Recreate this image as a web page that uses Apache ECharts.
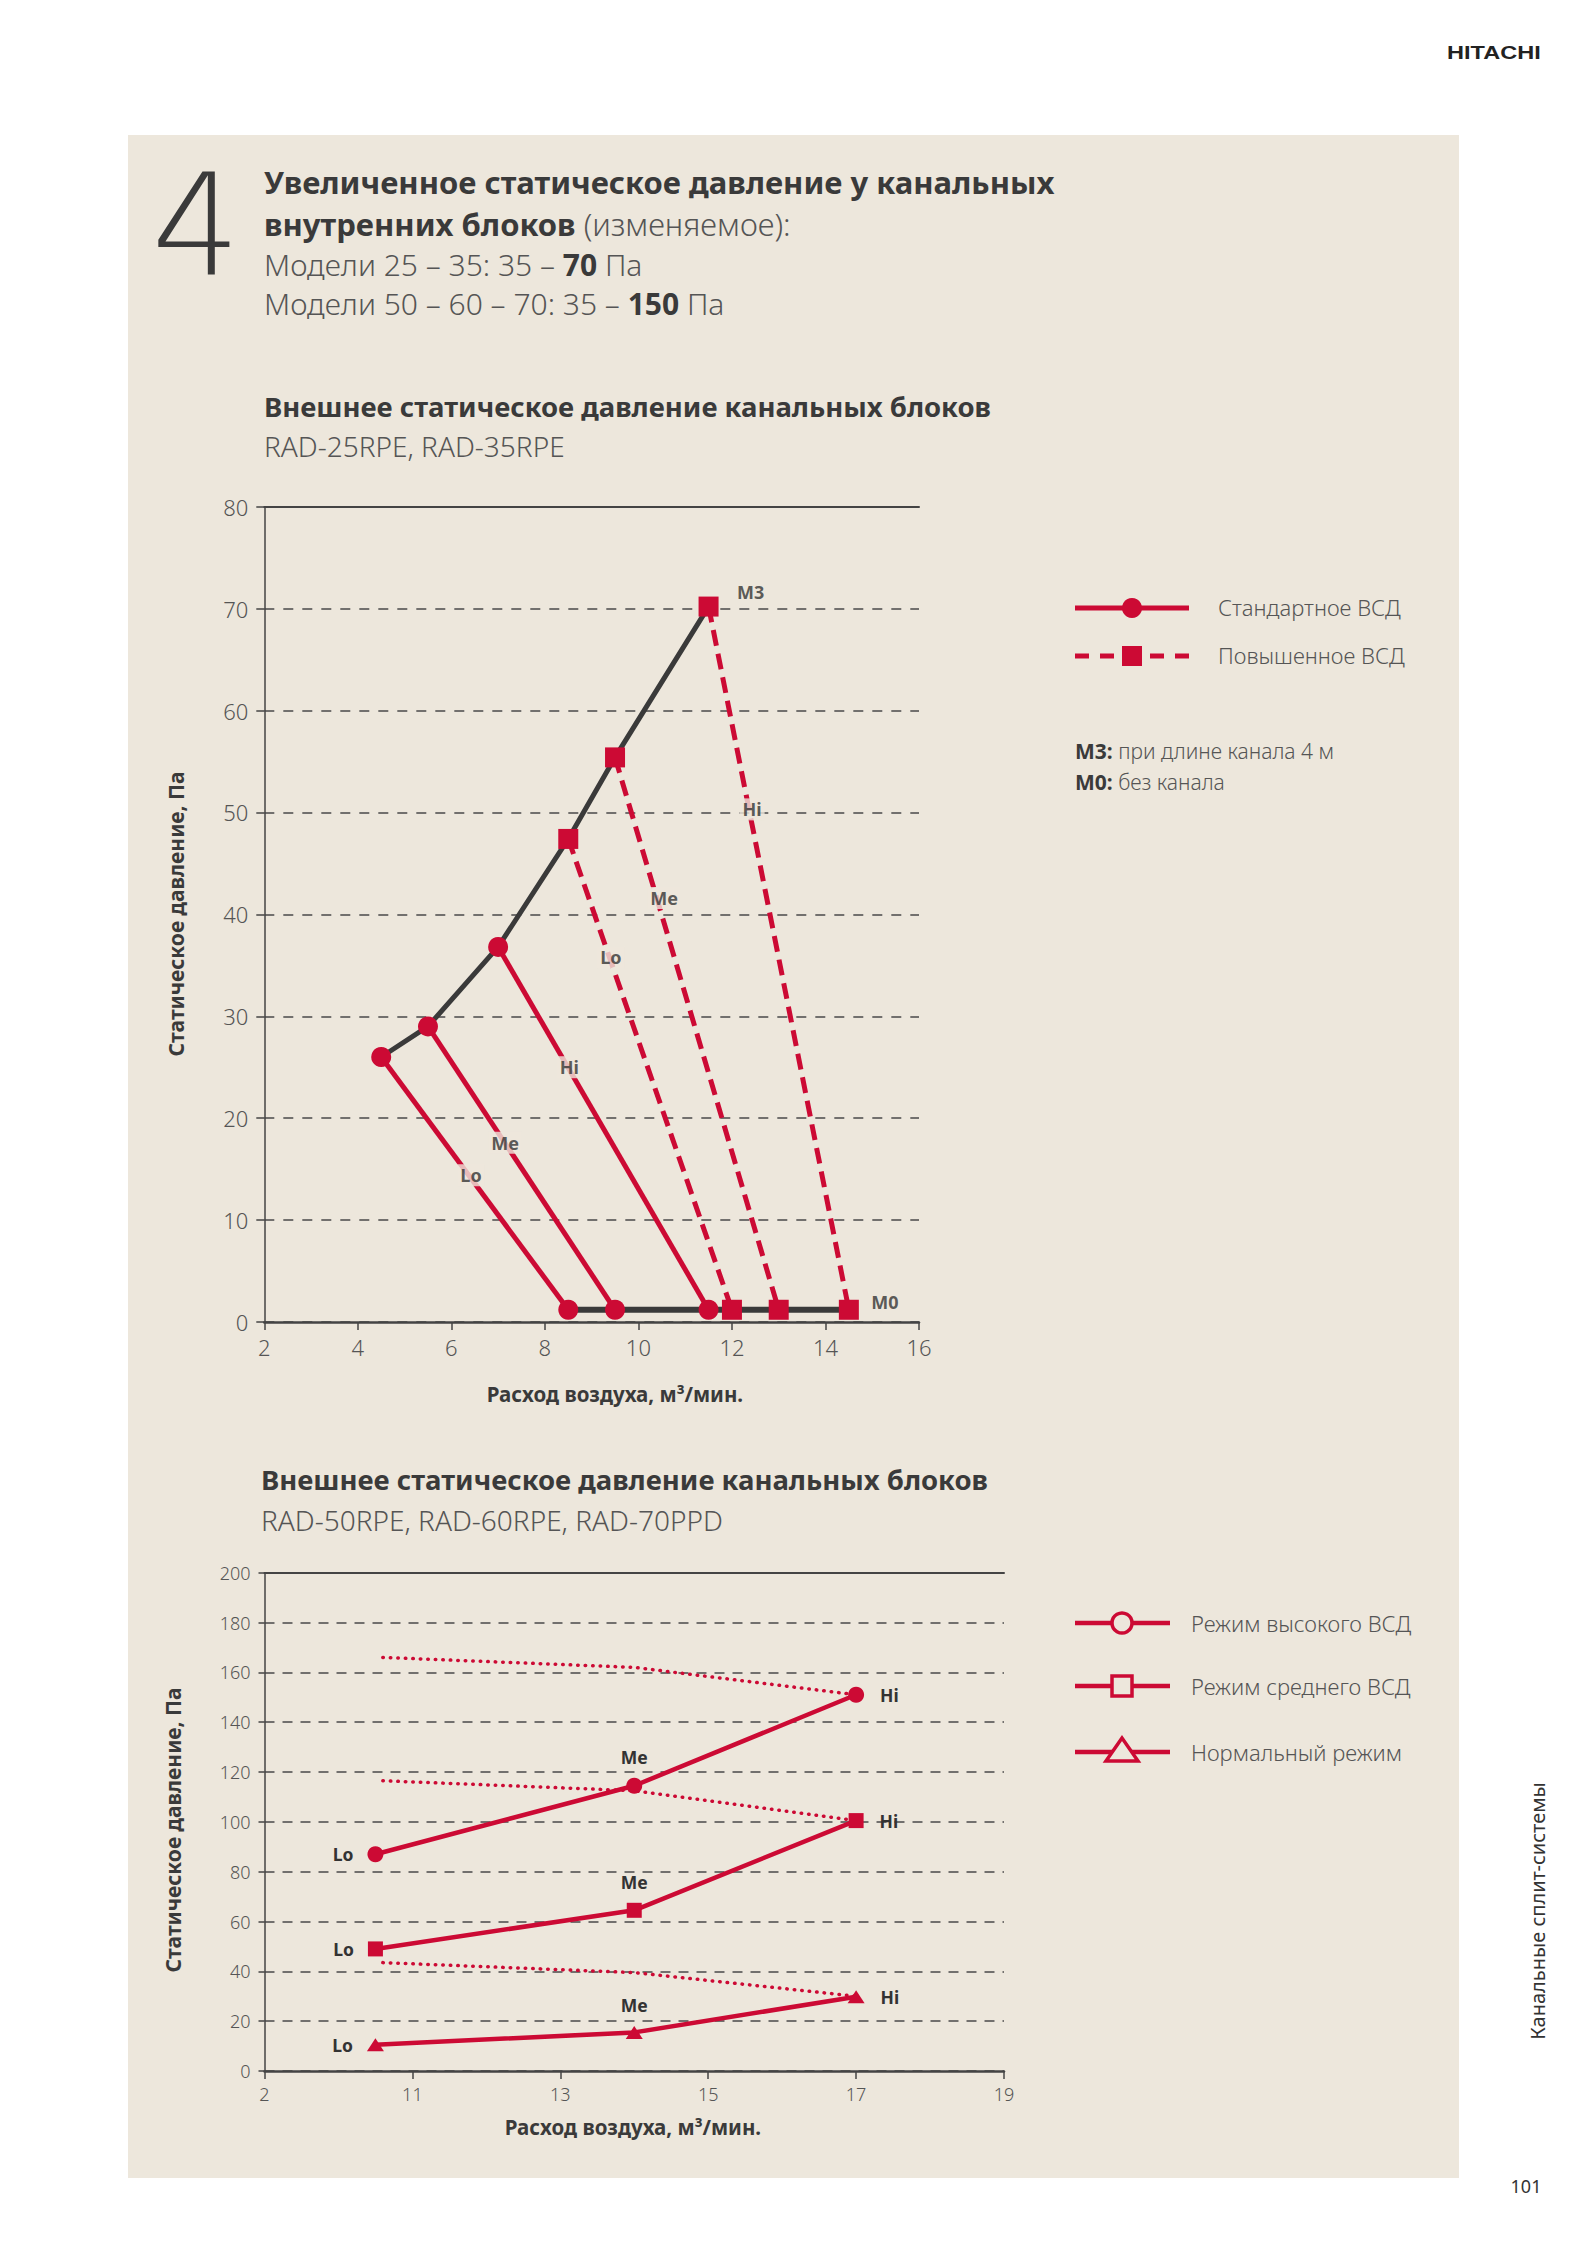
<!DOCTYPE html>
<html><head><meta charset="utf-8">
<script src="https://cdn.jsdelivr.net/npm/echarts@6/dist/echarts.min.js"></script>
<style>html,body{margin:0;padding:0;background:#fff}#c{width:1587px;height:2245px}</style>
</head><body><div id="c"></div>
<script>
// ---------- DATA: chart 1 (RAD-25RPE, RAD-35RPE) ----------
const modes = ['Lo', 'Me', 'Hi'];
const x1Ticks = [2, 16, 2];          // min, max, interval
const y1Ticks = [0, 80, 10];
const stdStartX = [4.5, 5.5, 7.0];   // standard ESP (solid), upper points
const stdStartY = [26, 29, 36.8];
const stdEndX = [8.5, 9.5, 11.5];    // lower points (M0)
const rsdStartX = [8.5, 9.5, 11.5];  // raised ESP (dashed), upper points
const rsdStartY = [47.4, 55.4, 70.2];
const rsdEndX = [12.0, 13.0, 14.5];
const m0Level = 1.2;
const stdLabelX = [6.42, 7.15, 8.52];
const stdLabelY = [14.4, 17.6, 25.0];
const rsdLabelX = [9.41, 10.55, 12.43];
const rsdLabelY = [35.8, 41.6, 50.3];
const noteLabels = ['M3', 'M0'];
const noteLabelX = [12.4, 15.27];
const noteLabelY = [71.6, 2.0];

// ---------- DATA: chart 2 (RAD-50RPE, RAD-60RPE, RAD-70PPD) ----------
const x2Range = [9, 19];
const x2TickValues = [9, 11, 13, 15, 17, 19];
const x2TickLabels = ['2', '11', '13', '15', '17', '19'];
const y2Ticks = [0, 200, 20];
const airflow = [10.5, 14, 17];
const highP = [87, 114.5, 151];
const midP = [49, 64.5, 100.5];
const normP = [10.5, 15.5, 29.8];
const dotX = [10.6, 14, 17];
const dotHigh = [166, 162, 151];
const dotMid = [116.5, 112.5, 100.5];
const dotNorm = [43.5, 39.5, 30];

// ---------- STYLE ----------
const RED = '#cc0a34';
const DARK = '#3a3a3a';
const GREY = '#555555';
const BG = '#ede7dc';
const F = '"Noto Sans", "Open Sans", "DejaVu Sans", sans-serif';

const zip = (xs, ys) => xs.map((x, i) => [x, ys[i]]);

function T(x, y, text, size, weight, color, extra) {
  const el = {
    type: 'text', x: x, y: y, z: 5,
    style: {
      text: text, fontSize: size, fontWeight: weight, fontFamily: F, fill: color,
      align: 'left', verticalAlign: 'middle', textAlign: 'left', textVerticalAlign: 'middle'
    }
  };
  if (extra) {
    if (extra.style) Object.assign(el.style, extra.style);
    for (const k in extra) if (k !== 'style') el[k] = extra[k];
  }
  return el;
}
function rich(size) {
  return {
    b: { fontSize: size, fontWeight: 'bold', fontFamily: F, fill: DARK },
    l: { fontSize: size, fontWeight: 300, fontFamily: F, fill: GREY }
  };
}

const graphics = [
  { type: 'rect', z: -10, silent: true, shape: { x: 128, y: 135, width: 1331, height: 2043 }, style: { fill: BG } },
  // header
  T(1447, 53, 'HITACHI', 19, 'bold', '#222', { scaleX: 1.24, style: { fontFamily: '"Liberation Sans", Arial, sans-serif' } }),
  T(196, 225, '4', 140, 200, DARK, { style: { align: 'center', textAlign: 'center', fontFamily: '"DejaVu Sans", sans-serif' } }),
  T(264, 182, 'Увеличенное статическое давление у канальных', 31, 'bold', DARK),
  T(264, 224, '{b|внутренних блоков} {l|(изменяемое):}', 31, 'normal', DARK, { style: { rich: rich(31) } }),
  T(264, 264, '{l|Модели 25 – 35: 35 – }{b|70}{l| Па}', 30, 'normal', DARK, { style: { rich: rich(30) } }),
  T(264, 303, '{l|Модели 50 – 60 – 70: 35 – }{b|150}{l| Па}', 30, 'normal', DARK, { style: { rich: rich(30) } }),
  // chart 1 titles
  T(264, 406, 'Внешнее статическое давление канальных блоков', 27.5, 'bold', DARK),
  T(264, 446, 'RAD-25RPE, RAD-35RPE', 28, 300, GREY),
  // chart 1 axis names
  T(176, 914, 'Статическое давление, Па', 21, 'bold', DARK, { rotation: Math.PI / 2, style: { align: 'center', textAlign: 'center' } }),
  T(615, 1394, 'Расход воздуха, м³/мин.', 20.5, 'bold', DARK, { style: { align: 'center', textAlign: 'center' } }),
  // chart 1 legend
  { type: 'line', z: 5, shape: { x1: 1075, y1: 608, x2: 1189, y2: 608 }, style: { stroke: RED, lineWidth: 5 } },
  { type: 'circle', z: 6, shape: { cx: 1132, cy: 608, r: 10 }, style: { fill: RED } },
  T(1218, 607, 'Стандартное ВСД', 22, 300, GREY),
  { type: 'line', z: 5, shape: { x1: 1075, y1: 656, x2: 1189, y2: 656 }, style: { stroke: RED, lineWidth: 5, lineDash: [14, 11] } },
  { type: 'rect', z: 6, shape: { x: 1122, y: 646, width: 20, height: 20 }, style: { fill: RED } },
  T(1218, 655, 'Повышенное ВСД', 22, 300, GREY),
  T(1075, 751, '{b|M3:} {l|при длине канала 4 м}', 21, 'normal', DARK, { style: { rich: rich(21) } }),
  T(1075, 782, '{b|M0:} {l|без канала}', 21, 'normal', DARK, { style: { rich: rich(21) } }),
  // chart 2 titles
  T(261, 1479, 'Внешнее статическое давление канальных блоков', 27.5, 'bold', DARK),
  T(261, 1520, 'RAD-50RPE, RAD-60RPE, RAD-70PPD', 28, 300, GREY),
  T(173, 1830, 'Статическое давление, Па', 21, 'bold', DARK, { rotation: Math.PI / 2, style: { align: 'center', textAlign: 'center' } }),
  T(633, 2127, 'Расход воздуха, м³/мин.', 20.5, 'bold', DARK, { style: { align: 'center', textAlign: 'center' } }),
  // chart 2 legend
  { type: 'line', z: 5, shape: { x1: 1075, y1: 1623, x2: 1170, y2: 1623 }, style: { stroke: RED, lineWidth: 4.5 } },
  { type: 'circle', z: 6, shape: { cx: 1122, cy: 1623, r: 10 }, style: { fill: BG, stroke: RED, lineWidth: 3.5 } },
  T(1191, 1623, 'Режим высокого ВСД', 22, 300, GREY),
  { type: 'line', z: 5, shape: { x1: 1075, y1: 1686, x2: 1170, y2: 1686 }, style: { stroke: RED, lineWidth: 4.5 } },
  { type: 'rect', z: 6, shape: { x: 1112, y: 1676, width: 20, height: 20 }, style: { fill: BG, stroke: RED, lineWidth: 3.5 } },
  T(1191, 1686, 'Режим среднего ВСД', 22, 300, GREY),
  { type: 'line', z: 5, shape: { x1: 1075, y1: 1752, x2: 1170, y2: 1752 }, style: { stroke: RED, lineWidth: 4.5 } },
  { type: 'polygon', z: 6, shape: { points: [[1122, 1738], [1106, 1761], [1138, 1761]] }, style: { fill: BG, stroke: RED, lineWidth: 3.5 } },
  T(1191, 1752, 'Нормальный режим', 22, 300, GREY),
  // side text and page number
  T(1537, 1911, 'Канальные сплит-системы', 20, 'normal', '#333', { rotation: Math.PI / 2, style: { align: 'center', textAlign: 'center' } }),
  T(1526, 2186, '101', 18, 'normal', '#333', { style: { align: 'center', textAlign: 'center' } })
];

// ---------- SERIES ----------
const series = [];
// chart 1: black envelope and M0 line
series.push({
  type: 'line', xAxisIndex: 0, yAxisIndex: 0, z: 2, symbol: 'none', silent: true,
  data: zip(stdStartX.concat(rsdStartX), stdStartY.concat(rsdStartY)),
  lineStyle: { color: DARK, width: 5 }
});
series.push({
  type: 'line', xAxisIndex: 0, yAxisIndex: 0, z: 2, symbol: 'none', silent: true,
  data: [[stdEndX[0], m0Level], [rsdEndX[rsdEndX.length - 1], m0Level]],
  lineStyle: { color: DARK, width: 6 }
});
modes.forEach((m, i) => {
  series.push({
    type: 'line', name: 'std-' + m, xAxisIndex: 0, yAxisIndex: 0, z: 3,
    data: [[stdStartX[i], stdStartY[i]], [stdEndX[i], m0Level]],
    symbol: 'circle', symbolSize: 20, showSymbol: true,
    itemStyle: { color: RED }, lineStyle: { color: RED, width: 5 }
  });
});
modes.forEach((m, i) => {
  series.push({
    type: 'line', name: 'rsd-' + m, xAxisIndex: 0, yAxisIndex: 0, z: 3,
    data: [[rsdStartX[i], rsdStartY[i]], [rsdEndX[i], m0Level]],
    symbol: 'rect', symbolSize: 20, showSymbol: true,
    itemStyle: { color: RED }, lineStyle: { color: RED, width: 5, type: [16, 8] }
  });
});
series.push({
  type: 'scatter', xAxisIndex: 0, yAxisIndex: 0, z: 10, symbolSize: 1, silent: true,
  itemStyle: { color: 'rgba(0,0,0,0)' },
  data: stdLabelX.map((x, i) => [x, stdLabelY[i], modes[i]])
    .concat(rsdLabelX.map((x, i) => [x, rsdLabelY[i], modes[i]])),
  label: { show: true, position: 'inside', formatter: p => p.value[2], backgroundColor: BG, padding: [2, 3],
    fontSize: 18, fontWeight: 'bold', fontFamily: F, color: '#333' }
});
series.push({
  type: 'scatter', xAxisIndex: 0, yAxisIndex: 0, z: 10, symbolSize: 1, silent: true,
  itemStyle: { color: 'rgba(0,0,0,0)' },
  data: noteLabelX.map((x, i) => [x, noteLabelY[i], noteLabels[i]]),
  label: { show: true, position: 'inside', formatter: p => p.value[2],
    fontSize: 18, fontWeight: 'bold', fontFamily: F, color: '#333' }
});

// chart 2: dotted connectors
[dotHigh, dotMid, dotNorm].forEach(arr => {
  series.push({
    type: 'line', xAxisIndex: 2, yAxisIndex: 1, z: 2, symbol: 'none', silent: true,
    data: zip(dotX, arr),
    lineStyle: { color: RED, width: 3.5, type: [0.5, 7], cap: 'round' }
  });
});
const labelPos = ['left', 'top', 'right'];
const labelDist = [14, 12, 16];
[[highP, 'circle', 16], [midP, 'rect', 15], [normP, 'triangle', [17, 13]]].forEach(([arr, sym, size]) => {
  series.push({
    type: 'line', xAxisIndex: 2, yAxisIndex: 1, z: 3,
    data: arr.map((v, i) => ({ value: [airflow[i], v], label: { position: labelPos[i], distance: labelDist[i] } })),
    symbol: sym, symbolSize: size, showSymbol: true,
    itemStyle: { color: RED }, lineStyle: { color: RED, width: 4.5 },
    label: { show: true, formatter: p => modes[p.dataIndex], fontSize: 17.5, fontWeight: 'bold', fontFamily: F, color: '#333' }
  });
});

const tickLabel = (size) => ({ fontSize: size, color: GREY, fontWeight: 300, fontFamily: F });

const option = {
  backgroundColor: '#ffffff',
  animation: false,
  graphic: { elements: graphics },
  grid: [
    { left: 264.3, top: 506.7, width: 654.7, height: 815.3 },
    { left: 264.5, top: 1572.7, width: 739.5, height: 498.3 }
  ],
  xAxis: [
    { type: 'value', gridIndex: 0, position: 'bottom', min: x1Ticks[0], max: x1Ticks[1], interval: x1Ticks[2],
      axisLine: { show: true, lineStyle: { color: '#444', width: 2.5 } },
      axisTick: { show: true, length: 8, lineStyle: { color: '#444', width: 1.5 } },
      axisLabel: Object.assign({ margin: 14 }, tickLabel(22)),
      splitLine: { show: false } },
    { type: 'value', gridIndex: 0, position: 'top', min: x1Ticks[0], max: x1Ticks[1], interval: x1Ticks[2],
      axisLine: { show: true, lineStyle: { color: '#444', width: 2 } },
      axisTick: { show: false }, axisLabel: { show: false }, splitLine: { show: false } },
    { type: 'value', gridIndex: 1, position: 'bottom', min: x2Range[0], max: x2Range[1],
      axisLine: { show: true, lineStyle: { color: '#444', width: 2.5 } },
      axisTick: { show: true, length: 8, customValues: x2TickValues, lineStyle: { color: '#444', width: 1.5 } },
      axisLabel: Object.assign({ margin: 14, customValues: x2TickValues,
        formatter: v => x2TickLabels[x2TickValues.indexOf(v)] }, tickLabel(18)),
      splitLine: { show: false } },
    { type: 'value', gridIndex: 1, position: 'top', min: x2Range[0], max: x2Range[1],
      axisLine: { show: true, lineStyle: { color: '#444', width: 2 } },
      axisTick: { show: false }, axisLabel: { show: false }, splitLine: { show: false } }
  ],
  yAxis: [
    { type: 'value', gridIndex: 0, min: y1Ticks[0], max: y1Ticks[1], interval: y1Ticks[2],
      axisLine: { show: true, lineStyle: { color: '#444', width: 1.5 } },
      axisTick: { show: true, length: 8, lineStyle: { color: '#444', width: 1.5 } },
      axisLabel: Object.assign({ margin: 16 }, tickLabel(22)),
      splitLine: { show: true, lineStyle: { color: '#4a4a4a', width: 1.5, type: [10, 9] } } },
    { type: 'value', gridIndex: 1, min: y2Ticks[0], max: y2Ticks[1], interval: y2Ticks[2],
      axisLine: { show: true, lineStyle: { color: '#444', width: 1.5 } },
      axisTick: { show: true, length: 6, lineStyle: { color: '#444', width: 1.5 } },
      axisLabel: Object.assign({ margin: 14 }, tickLabel(18)),
      splitLine: { show: true, lineStyle: { color: '#4a4a4a', width: 1.5, type: [10, 8] } } }
  ],
  series: series
};

const chart = echarts.init(document.getElementById('c'), null, { renderer: 'svg', width: 1587, height: 2245 });
chart.setOption(option);
</script>
</body></html>
